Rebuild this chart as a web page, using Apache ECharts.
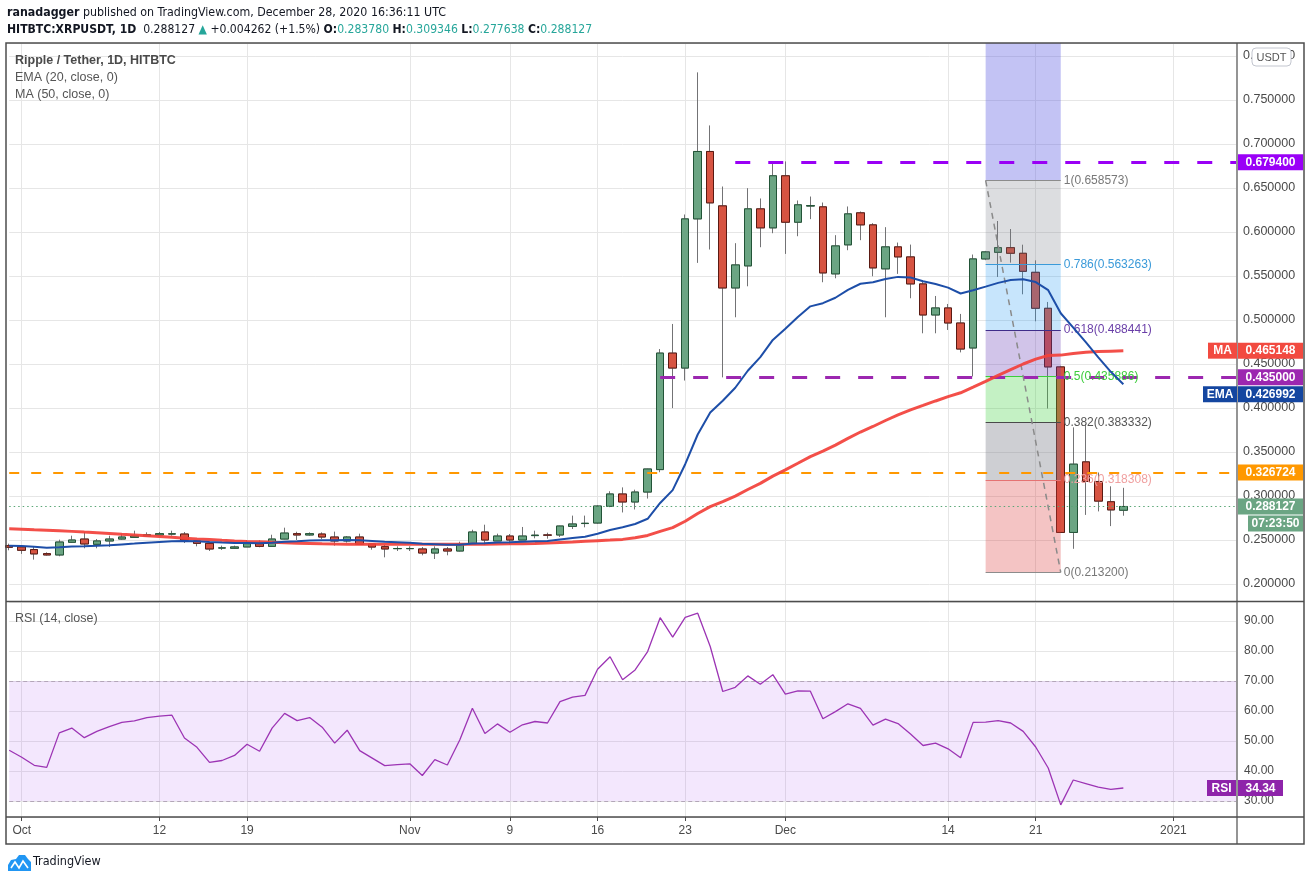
<!DOCTYPE html>
<html><head><meta charset="utf-8">
<script src="https://cdn.jsdelivr.net/npm/echarts@6/dist/echarts.min.js"></script>
<style>html,body{margin:0;padding:0;background:#fff}#c{width:1311px;height:881px}</style>
</head><body><div id="c"></div>
<script>
// ---------------- data ----------------
const firstDay = [2020, 8, 30];   // 30 Sep 2020
const dayCount = 99;              // axis runs to 5 Jan 2021
const tickDates = ['2020-10-01','2020-10-12','2020-10-19','2020-11-01','2020-11-09','2020-11-16','2020-11-23','2020-12-01','2020-12-14','2020-12-21','2021-01-01'];
const tickLabels = ['Oct','12','19','Nov','9','16','23','Dec','14','21','2021'];

const opens = [
 .2436,.2421,.2391,.2345,.2330,.2474,.2511,.2451,.2489,.2511,
 .2530,.2545,.2557,.2568,.2568,.2489,.2462,.2409,.2406,.2421,
 .2458,.2428,.2511,.2572,.2557,.2568,.2534,.2489,.2534,.2455,
 .2424,.2402,.2402,.2398,.2352,.2398,.2375,.2455,.2591,.2489,
 .2545,.2500,.2550,.2557,.2557,.2655,.2687,.2693,.2883,.3023,
 .2932,.3045,.3300,.4624,.4454,.6149,.6915,.6297,.5364,.5615,
 .6263,.6047,.6639,.6111,.6295,.6286,.5524,.5854,.6218,.6081,
 .5581,.5831,.5717,.5410,.5057,.5137,.4966,.4682,.5694,.5769,
 .5822,.5758,.5542,.5133,.4467,.2586,.3388,.3165,.2935,.2838];
const closes = [
 .2417,.2383,.2342,.2330,.2477,.2500,.2455,.2489,.2511,.2534,
 .2545,.2560,.2572,.2570,.2500,.2462,.2398,.2410,.2421,.2458,
 .2428,.2511,.2579,.2557,.2572,.2534,.2489,.2534,.2451,.2420,
 .2398,.2403,.2403,.2352,.2398,.2375,.2455,.2591,.2500,.2545,
 .2500,.2545,.2555,.2555,.2659,.2682,.2690,.2886,.3023,.2932,
 .3045,.3307,.4624,.4454,.6149,.6915,.6331,.5364,.5626,.6263,
 .6047,.6639,.6111,.6309,.6300,.5535,.5842,.6206,.6081,.5592,
 .5831,.5717,.5410,.5057,.5137,.4966,.4670,.5694,.5774,.5822,
 .5758,.5553,.5133,.4467,.2586,.3362,.3165,.2942,.2842,.2881];
const lows = [
 .2383,.2342,.2277,.2323,.2315,.2466,.2406,.2406,.2421,.2504,
 .2525,.2540,.2550,.2549,.2466,.2428,.2375,.2387,.2400,.2420,
 .2417,.2425,.2508,.2500,.2549,.2511,.2436,.2470,.2443,.2390,
 .2303,.2375,.2375,.2326,.2284,.2326,.2370,.2450,.2443,.2489,
 .2447,.2500,.2519,.2515,.2534,.2625,.2644,.2685,.2873,.2813,
 .2847,.2971,.3270,.3999,.4312,.5649,.5801,.4348,.5031,.5383,
 .5827,.5986,.5751,.5952,.6146,.5429,.5474,.5793,.5907,.5497,
 .5031,.5524,.5247,.4849,.4849,.4887,.4632,.4359,.5680,.5489,
 .5652,.5292,.4985,.3994,.2580,.2400,.2785,.2825,.2658,.2776];
const highs = [
 .2458,.2442,.2421,.2360,.2504,.2549,.2591,.2511,.2549,.2572,
 .2606,.2587,.2591,.2606,.2591,.2495,.2477,.2436,.2436,.2500,
 .2496,.2560,.2640,.2594,.2587,.2587,.2595,.2545,.2572,.2460,
 .2443,.2428,.2428,.2420,.2428,.2420,.2481,.2617,.2674,.2572,
 .2568,.2648,.2606,.2583,.2662,.2777,.2777,.2895,.3054,.3098,
 .3072,.3310,.4670,.4955,.6199,.7814,.7211,.6517,.5873,.6498,
 .6381,.6787,.6802,.6358,.6403,.6335,.5964,.6290,.6233,.6100,
 .6055,.5880,.5857,.5455,.5273,.5182,.5069,.5744,.5785,.6125,
 .6034,.5856,.5678,.5205,.4480,.3780,.3820,.3267,.3110,.3093];
const ema20 = [
 .2436,.2431,.2422,.2413,.2419,.2426,.2428,.2434,.2441,.2450,
 .2459,.2469,.2478,.2487,.2488,.2486,.2478,.2471,.2467,.2467,
 .2464,.2469,.2479,.2486,.2494,.2498,.2497,.2501,.2496,.2489,
 .2480,.2474,.2468,.2457,.2452,.2445,.2446,.2460,.2464,.2472,
 .2475,.2480,.2485,.2489,.2506,.2523,.2538,.2571,.2614,.2644,
 .2682,.2741,.2921,.3067,.3361,.3699,.3949,.4083,.4230,.4423,
 .4578,.4774,.4901,.5035,.5155,.5191,.5253,.5343,.5412,.5428,
 .5466,.5490,.5482,.5441,.5410,.5368,.5301,.5338,.5379,.5422,
 .5454,.5463,.5431,.5339,.5077,.4914,.4748,.4576,.4411,.4270];
const ma50 = [
 .2628,.2622,.2616,.2611,.2605,.2598,.2590,.2583,.2575,.2566,
 .2558,.2549,.2540,.2530,.2520,.2512,.2505,.2497,.2490,.2484,
 .2479,.2474,.2468,.2464,.2460,.2456,.2454,.2453,.2452,.2451,
 .2451,.2451,.2451,.2451,.2451,.2451,.2451,.2452,.2452,.2454,
 .2456,.2458,.2461,.2465,.2471,.2477,.2485,.2492,.2499,.2507,
 .2525,.2552,.2598,.2640,.2713,.2801,.2879,.2937,.2999,.3074,
 .3144,.3226,.3297,.3372,.3448,.3509,.3578,.3654,.3727,.3790,
 .3858,.3922,.3979,.4029,.4080,.4129,.4173,.4236,.4302,.4370,
 .4437,.4500,.4555,.4597,.4601,.4620,.4634,.4641,.4646,.4651];
const rsi14 = [
 46.9,44.6,41.9,41.2,52.7,54.3,51.1,53.2,54.8,56.2,
 56.7,57.8,58.3,58.6,51.0,47.9,42.9,43.5,45.2,48.9,
 46.6,54.3,59.2,56.8,57.8,54.6,49.3,53.6,46.8,44.3,
 41.8,42.1,42.4,38.5,43.8,42.0,50.4,60.9,52.5,55.7,
 52.9,55.4,56.5,56.0,63.1,64.6,65.2,73.9,78.1,70.4,
 73.7,79.8,91.1,84.6,91.2,92.6,81.5,66.5,67.9,71.7,
 68.9,72.1,65.6,66.7,66.6,57.4,59.8,62.4,60.9,55.3,
 57.3,55.8,52.3,48.5,49.3,47.4,44.4,56.2,56.3,56.8,
 56.0,53.2,48.0,41.0,28.7,37.0,35.8,34.6,33.9,34.34];

const fibRatios = ['1','0.786','0.618','0.5','0.382','0.236','0'];
const fibPrices = [0.658573,0.563263,0.488441,0.435886,0.383332,0.318308,0.2132];
const fibStartIdx = 78, fibEndIdx = 84;
const resistanceTop = 0.6794, resistanceStartIdx = 58;
const supportLevel = 0.435, supportStartIdx = 52;
const orangeLevel = 0.326724;
const lastPrice = 0.288127;
const lastEma = 0.426992, lastMa = 0.465148, lastRsi = 34.34;
const countdown = '07:23:50';

// ---------------- layout / styles ----------------
const FONT = 'Liberation Sans, Arial, sans-serif';
const NARROW = 'Liberation Sans Narrow, DejaVu Sans Condensed, Liberation Sans, sans-serif';
const PLOT_L = 9.2, PLOT_R = 1236, MAIN_T = 43, MAIN_B = 601, RSI_T = 602, RSI_B = 817;
const Y_MIN = 0.2 - (MAIN_B - 584) / 880, Y_MAX = 0.2 + (584 - MAIN_T) / 880;
const R_MIN = 30 - (RSI_B - 801) / 3, R_MAX = 90 + (621 - RSI_T) / 3;

const dates = [];
for (let k = 0; k < dayCount; k++) {
  const d = new Date(Date.UTC(firstDay[0], firstDay[1], firstDay[2] + k));
  dates.push(d.toISOString().slice(0, 10));
}
const isTick = (i, v) => tickDates.indexOf(v) >= 0;
const nearMult = (v, m) => Math.abs(v / m - Math.round(v / m)) < 1e-6;

const candleData = opens.map((o, i) => [o, closes[i], lows[i], highs[i]]);
const bodyData = opens.map((o, i) => [o, closes[i], Math.min(o, closes[i]), Math.max(o, closes[i])]);

const fibFill = ['rgba(120,123,134,0.26)','rgba(33,150,243,0.25)','rgba(103,58,183,0.30)','rgba(60,210,60,0.30)','rgba(120,123,134,0.36)','rgba(220,60,60,0.30)'];
const fibLine = ['#8c8c8c','#3a9ad9','#3f2d8a','#3ccd3c','#4a4a4a','#e57373','#8c8c8c'];
const fibText = ['#787878','#3a9ad9','#6a3fa8','#3ccd3c','#555555','#f0a0a0','#787878'];

const fibZones = [[
  {xAxis: dates[fibStartIdx], yAxis: fibPrices[0], itemStyle: {color: 'rgba(90,90,225,0.36)'}},
  {xAxis: dates[fibEndIdx], yAxis: Y_MAX}
]];
for (let k = 0; k < 6; k++) {
  fibZones.push([
    {xAxis: dates[fibStartIdx], yAxis: fibPrices[k], itemStyle: {color: fibFill[k]}},
    {xAxis: dates[fibEndIdx], yAxis: fibPrices[k + 1]}
  ]);
}
const fibLines = fibPrices.map((p, k) => [
  {coord: [dates[fibStartIdx], p], lineStyle: {color: fibLine[k], width: 1, type: 'solid'},
   label: {show: true, position: 'end', distance: 3, formatter: fibRatios[k] + '(' + p.toFixed(6) + ')',
           color: fibText[k], fontSize: 12, fontFamily: FONT}},
  {coord: [dates[fibEndIdx], p]}
]);

const levelLines = [
  [{coord: [dates[resistanceStartIdx], resistanceTop], lineStyle: {color: '#9900f5', width: 3, type: [15, 18]}}, {coord: [dates[dayCount - 1], resistanceTop]}],
  [{coord: [dates[supportStartIdx], supportLevel], lineStyle: {color: '#9c27b0', width: 3, type: [15, 18]}}, {coord: [dates[dayCount - 1], supportLevel]}],
  [{coord: [dates[0], orangeLevel], lineStyle: {color: '#ff9800', width: 2, type: [10, 12]}}, {coord: [dates[dayCount - 1], orangeLevel]}],
  [{coord: [dates[0], lastPrice], lineStyle: {color: '#5aa676', width: 1, type: [1.5, 3]}}, {coord: [dates[dayCount - 1], lastPrice]}]
];

function xAxisCfg(gridIndex, showLabels) {
  return {
    type: 'category', gridIndex, data: dates, boundaryGap: false,
    axisLine: {show: false},
    axisTick: {show: showLabels, interval: isTick, length: 4, lineStyle: {color: '#4a4a4a'}},
    axisLabel: {show: showLabels, interval: isTick, margin: 8, color: '#4a4a4a', fontSize: 12, fontFamily: FONT,
                formatter: v => { const k = tickDates.indexOf(v); return k >= 0 ? tickLabels[k] : ''; }},
    splitLine: {show: true, interval: isTick, lineStyle: {color: '#e6e6e6', width: 1}}
  };
}

const chart = echarts.init(document.getElementById('c'));
chart.setOption({
  animation: false,
  backgroundColor: '#ffffff',
  grid: [
    {left: PLOT_L, right: 1311 - PLOT_R, top: MAIN_T, bottom: 881 - MAIN_B, outerBoundsMode: 'none', containLabel: false},
    {left: PLOT_L, right: 1311 - PLOT_R, top: RSI_T, bottom: 881 - RSI_B, outerBoundsMode: 'none', containLabel: false}
  ],
  xAxis: [xAxisCfg(0, false), xAxisCfg(1, true)],
  yAxis: [
    {type: 'value', gridIndex: 0, position: 'right', min: Y_MIN, max: Y_MAX, splitNumber: 12, scale: true,
     axisLine: {show: false}, axisTick: {show: false},
     axisLabel: {margin: 7, color: '#4a4a4a', fontSize: 12.5, fontFamily: FONT,
                 formatter: v => nearMult(v, 0.05) ? v.toFixed(6) : ''},
     splitLine: {lineStyle: {color: '#e6e6e6', width: 1}}},
    {type: 'value', gridIndex: 1, position: 'right', min: R_MIN, max: R_MAX, splitNumber: 7, scale: true,
     axisLine: {show: false}, axisTick: {show: false},
     axisLabel: {margin: 8, color: '#4a4a4a', fontSize: 12, fontFamily: FONT,
                 formatter: v => nearMult(v, 10) ? v.toFixed(2) : ''},
     splitLine: {lineStyle: {color: '#e6e6e6', width: 1}}}
  ],
  series: [
    {name: 'wicks', type: 'candlestick', xAxisIndex: 0, yAxisIndex: 0, data: candleData, barWidth: 8, clip: false, z: 2,
     itemStyle: {color: 'rgba(0,0,0,0)', color0: 'rgba(0,0,0,0)', borderColor: '#737375', borderColor0: '#737375', borderWidth: 1}},
    {name: 'bodies', type: 'candlestick', xAxisIndex: 0, yAxisIndex: 0, data: bodyData, barWidth: 8, clip: false, z: 3,
     itemStyle: {color: '#6ba583', color0: '#d75442', borderColor: '#225437', borderColor0: '#5b1a13', borderWidth: 1}},
    {name: 'fib', type: 'line', xAxisIndex: 0, yAxisIndex: 0, symbol: 'none', z: 5,
     data: [[dates[fibStartIdx], fibPrices[0]], [dates[fibEndIdx], fibPrices[6]]],
     lineStyle: {color: '#8a8a8a', width: 1.5, type: [6, 5]},
     markArea: {z: 4, silent: true, label: {show: false}, data: fibZones},
     markLine: {z: 5, silent: true, symbol: 'none', animation: false, data: fibLines}},
    {name: 'EMA', type: 'line', xAxisIndex: 0, yAxisIndex: 0, data: ema20, symbol: 'none', z: 7,
     lineStyle: {color: '#1d4ea8', width: 2}},
    {name: 'MA', type: 'line', xAxisIndex: 0, yAxisIndex: 0, data: ma50, symbol: 'none', z: 6,
     lineStyle: {color: '#f2403a', width: 3, opacity: 0.92},
     markLine: {z: 5, silent: true, symbol: 'none', label: {show: false}, data: levelLines}},
    {name: 'RSI', type: 'line', xAxisIndex: 1, yAxisIndex: 1, data: rsi14, symbol: 'none', z: 5,
     lineStyle: {color: '#9c34b4', width: 1.3},
     markArea: {z: 1, silent: true, label: {show: false}, itemStyle: {color: 'rgba(155,60,240,0.12)'},
                data: [[{yAxis: 30}, {yAxis: 70}]]},
     markLine: {z: 2, silent: true, symbol: 'none', label: {show: false},
                lineStyle: {color: '#b3a6b8', width: 1, type: [4, 3]},
                data: [{yAxis: 70}, {yAxis: 30}]}}
  ]
});

// ---------------- overlay text, frame & axis badges ----------------
const yPix = v => chart.convertToPixel({yAxisIndex: 0}, v);
const rPix = v => chart.convertToPixel({yAxisIndex: 1}, v);
function badge(x, yc, w, text, bg) {
  return {type: 'group', z: 120, children: [
    {type: 'rect', z: 120, shape: {x: x, y: yc - 8, width: w, height: 16}, style: {fill: bg}},
    {type: 'text', z: 121, style: {x: x + w / 2, y: yc + 0.5, text: text, fill: '#ffffff', align: 'center', verticalAlign: 'middle',
      font: 'bold 12px ' + FONT}}
  ]};
}
const line = (x1, y1, x2, y2, w) => ({type: 'line', z: 110, shape: {x1, y1, x2, y2}, style: {stroke: '#4d4d4d', lineWidth: w}});
const txt = (x, y, text, font, fill, extra, z) => ({type: 'text', z: z || 115, style: Object.assign({x, y, text, font, fill, verticalAlign: 'middle'}, extra || {})});

const g = [];
g.push({type: 'rect', z: 110, shape: {x: 6, y: 43, width: 1298, height: 801}, style: {fill: 'none', stroke: '#4d4d4d', lineWidth: 1.5}});
g.push(line(6, 601.5, 1304, 601.5, 1.5));
g.push(line(6, 817, 1304, 817, 1.5));
g.push(line(1237, 43, 1237, 844, 1.2));

// header
g.push({type: 'text', z: 115, style: {x: 7, y: 13, verticalAlign: 'middle', fill: '#131722', font: '12.3px ' + NARROW,
  text: '{b|ranadagger} published on TradingView.com, December 28, 2020 16:36:11 UTC',
  rich: {b: {font: 'bold 12.3px ' + NARROW, fill: '#131722'}}}});
g.push({type: 'text', z: 115, style: {x: 7, y: 30, verticalAlign: 'middle', fill: '#131722', font: '12.1px ' + NARROW,
  text: '{b|HITBTC:XRPUSDT, 1D}  0.288127 {t|▲} +0.004262 (+1.5%) {b|O:}{t|0.283780} {b|H:}{t|0.309346} {b|L:}{t|0.277638} {b|C:}{t|0.288127}',
  rich: {b: {font: 'bold 12.1px ' + NARROW, fill: '#131722'}, t: {font: '12.1px ' + NARROW, fill: '#26a69a'}}}});

// pane legends
g.push(txt(15, 61, 'Ripple / Tether, 1D, HITBTC', 'bold 12.5px ' + FONT, '#4a4a4a'));
g.push(txt(15, 78, 'EMA (20, close, 0)', '12.5px ' + FONT, '#555555'));
g.push(txt(15, 94.5, 'MA (50, close, 0)', '12.5px ' + FONT, '#555555'));
g.push(txt(15, 619, 'RSI (14, close)', '12.5px ' + FONT, '#555555'));

// USDT badge
g.push({type: 'rect', z: 117, shape: {x: 1252, y: 48, width: 39, height: 18, r: 4}, style: {fill: '#ffffff', stroke: '#c3c6cf', lineWidth: 1}});
g.push(txt(1271.5, 57.5, 'USDT', '11px ' + FONT, '#555555', {align: 'center'}, 119));

// right-axis badges
g.push(badge(1238, yPix(resistanceTop), 65, resistanceTop.toFixed(6), '#9a00f7'));
g.push(badge(1208, yPix(lastMa), 29, 'MA', '#f24a40'));
g.push(badge(1238, yPix(lastMa), 65, lastMa.toFixed(6), '#f24a40'));
g.push(badge(1238, yPix(supportLevel), 65, supportLevel.toFixed(6), '#9c27b0'));
g.push(badge(1203, yPix(lastEma) + 10, 34, 'EMA', '#1446a0'));
g.push(badge(1238, yPix(lastEma) + 10, 65, lastEma.toFixed(6), '#1446a0'));
g.push(badge(1238, yPix(orangeLevel), 65, orangeLevel.toFixed(6), '#ff9800'));
g.push(badge(1238, yPix(lastPrice), 65, lastPrice.toFixed(6), '#6ba583'));
g.push(badge(1248, yPix(lastPrice) + 17, 55, countdown, '#6ba583'));
g.push(badge(1207, rPix(lastRsi), 29, 'RSI', '#8e24aa'));
g.push(badge(1238, rPix(lastRsi), 45, lastRsi.toFixed(2), '#8e24aa'));

// TradingView logo
g.push({type: 'polygon', z: 115, shape: {points: [[8, 871], [8, 865], [11, 860], [16, 859], [19, 855], [25, 855], [28, 859], [31, 862], [31, 871]]}, style: {fill: '#2196f3'}});
g.push({type: 'polyline', z: 116, shape: {points: [[11, 868], [15, 862], [19, 868], [23, 861], [28, 868]]}, style: {stroke: '#ffffff', lineWidth: 1.6, fill: 'none'}});
g.push(txt(33, 862, 'TradingView', '12.5px ' + NARROW, '#131722'));

chart.setOption({graphic: g});
</script>
</body></html>
